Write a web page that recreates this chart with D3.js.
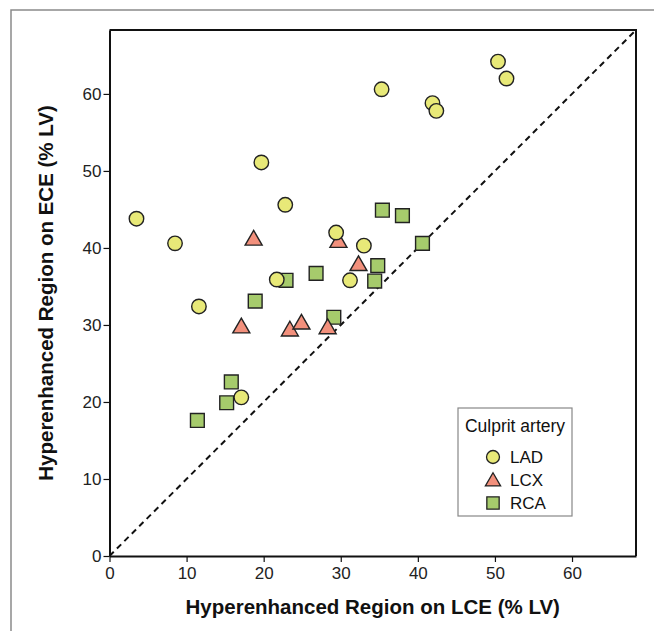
<!DOCTYPE html>
<html>
<head>
<meta charset="utf-8">
<script src="https://cdn.jsdelivr.net/npm/d3@7"></script>
<style>
  body { margin: 0; background: #fff; }
  text { font-family: "Liberation Sans", Arial, sans-serif; }
</style>
</head>
<body>
<script>
var width = 654;
var height = 631;
var margin = {left: 109.5, right: 18, top: 30, bottom: 75};
var axisMax = 68.3;

// LCE (x) / ECE (y) values, % LV
var ladX = [3.5, 8.5, 11.6, 19.7, 22.8, 21.7, 29.4, 33.0, 31.2, 17.1, 35.3, 41.9, 42.4, 50.4, 51.5];
var ladY = [43.8, 40.6, 32.4, 51.1, 45.6, 35.9, 42.0, 40.3, 35.8, 20.6, 60.6, 58.8, 57.8, 64.2, 62.0];
var lcxX = [18.7, 29.7, 32.3, 17.1, 23.4, 24.9, 28.3];
var lcxY = [41.2, 40.9, 37.9, 29.8, 29.4, 30.3, 29.7];
var rcaX = [35.4, 38.0, 40.6, 34.8, 34.4, 22.9, 26.8, 18.9, 29.1, 15.8, 15.2, 11.4];
var rcaY = [44.9, 44.2, 40.6, 37.7, 35.7, 35.8, 36.7, 33.1, 31.0, 22.6, 19.9, 17.6];
var ticks = [0, 10, 20, 30, 40, 50, 60];
var arteries = ["LAD", "LCX", "RCA"];
var colors = {LAD: "#e8e978", LCX: "#f2907c", RCA: "#a6cb6c"};
var shapes = {LAD: d3.symbolCircle, LCX: d3.symbolTriangle, RCA: d3.symbolSquare};
var sizes = {LAD: 165, LCX: 125, RCA: 190};

var svg = d3.select("body")
            .append("svg")
            .attr("width", width)
            .attr("height", height);

// page border (top + left)
svg.append("path")
  .attr("d", "M11,631 L11,10 L654,10")
  .attr("fill", "none")
  .attr("stroke", "#8a8a8a")
  .attr("stroke-width", 1.5);

var x = d3.scaleLinear().domain([0, axisMax]).range([margin.left, width - margin.right]);
var y = d3.scaleLinear().domain([0, axisMax]).range([height - margin.bottom, margin.top]);

// frame top and right
svg.append("path")
  .attr("d", "M" + x(0) + "," + y(axisMax) + " L" + x(axisMax) + "," + y(axisMax) + " L" + x(axisMax) + "," + y(0))
  .attr("fill", "none")
  .attr("stroke", "#111")
  .attr("stroke-width", 2);

// identity line
svg.append("line")
  .attr("x1", x(0)).attr("y1", y(0))
  .attr("x2", x(axisMax)).attr("y2", y(axisMax))
  .attr("stroke", "#111")
  .attr("stroke-width", 2)
  .attr("stroke-dasharray", "6,4.5");

var xAxis = svg.append("g")
  .attr("transform", "translate(0," + y(0) + ")")
  .call(d3.axisBottom(x).tickValues(ticks).tickSize(6).tickPadding(5).tickSizeOuter(0));
var yAxis = svg.append("g")
  .attr("transform", "translate(" + x(0) + ",0)")
  .call(d3.axisLeft(y).tickValues(ticks).tickSize(6).tickPadding(2).tickSizeOuter(0));

[xAxis, yAxis].forEach(function(g) {
  g.attr("font-size", 17).attr("font-family", "Liberation Sans, Arial, sans-serif");
  g.select(".domain").attr("stroke", "#111").attr("stroke-width", 2);
  g.selectAll(".tick line").attr("stroke", "#111").attr("stroke-width", 1.2);
  g.selectAll(".tick text")
    .attr("fill", "#222")
    .style("font-size", "17px");
});

// draw squares first, then triangles, then circles on top
var series = [
  {name: "RCA", xs: rcaX, ys: rcaY},
  {name: "LCX", xs: lcxX, ys: lcxY},
  {name: "LAD", xs: ladX, ys: ladY}
];

series.forEach(function(s) {
  var pts = s.xs.map(function(v, i) { return [v, s.ys[i]]; });
  var sym = d3.symbol().type(shapes[s.name]).size(sizes[s.name]);
  svg.append("g").selectAll("path")
    .data(pts)
    .enter().append("path")
    .attr("d", sym)
    .attr("transform", function(d) {
      var dy = s.name === "LCX" ? 1.5 : 0;
      return "translate(" + x(d[0]) + "," + (y(d[1]) + dy) + ")";
    })
    .attr("fill", colors[s.name])
    .attr("stroke", "#222")
    .attr("stroke-width", 1.4);
});

// axis titles
svg.append("text")
  .attr("x", (x(0) + x(axisMax)) / 2)
  .attr("y", 614)
  .attr("text-anchor", "middle")
  .style("font-size", "20.5px")
  .style("font-weight", "bold")
  .attr("fill", "#111")
  .text("Hyperenhanced Region on LCE (% LV)");

svg.append("text")
  .attr("transform", "translate(53," + (y(0) + y(axisMax)) / 2 + ") rotate(-90)")
  .attr("text-anchor", "middle")
  .style("font-size", "20.5px")
  .style("font-weight", "bold")
  .attr("fill", "#111")
  .text("Hyperenhanced Region on ECE (% LV)");

// legend
var legend = svg.append("g").attr("transform", "translate(458,408)");
legend.append("rect")
  .attr("width", 114).attr("height", 108)
  .attr("fill", "#fff")
  .attr("stroke", "#888")
  .attr("stroke-width", 1.2);
legend.append("text")
  .attr("x", 57).attr("y", 24)
  .attr("text-anchor", "middle")
  .style("font-size", "17.5px")
  .attr("fill", "#111")
  .text("Culprit artery");

arteries.forEach(function(a, i) {
  var yy = 49 + i * 23;
  legend.append("path")
    .attr("d", d3.symbol().type(shapes[a]).size(sizes[a] * 0.8))
    .attr("transform", "translate(35," + (yy + (a === "LCX" ? 1.5 : 0)) + ")")
    .attr("fill", colors[a])
    .attr("stroke", "#222")
    .attr("stroke-width", 1.3);
  legend.append("text")
    .attr("x", 52).attr("y", yy + 6)
    .style("font-size", "17px")
    .attr("fill", "#111")
    .text(a);
});
</script>
</body>
</html>
